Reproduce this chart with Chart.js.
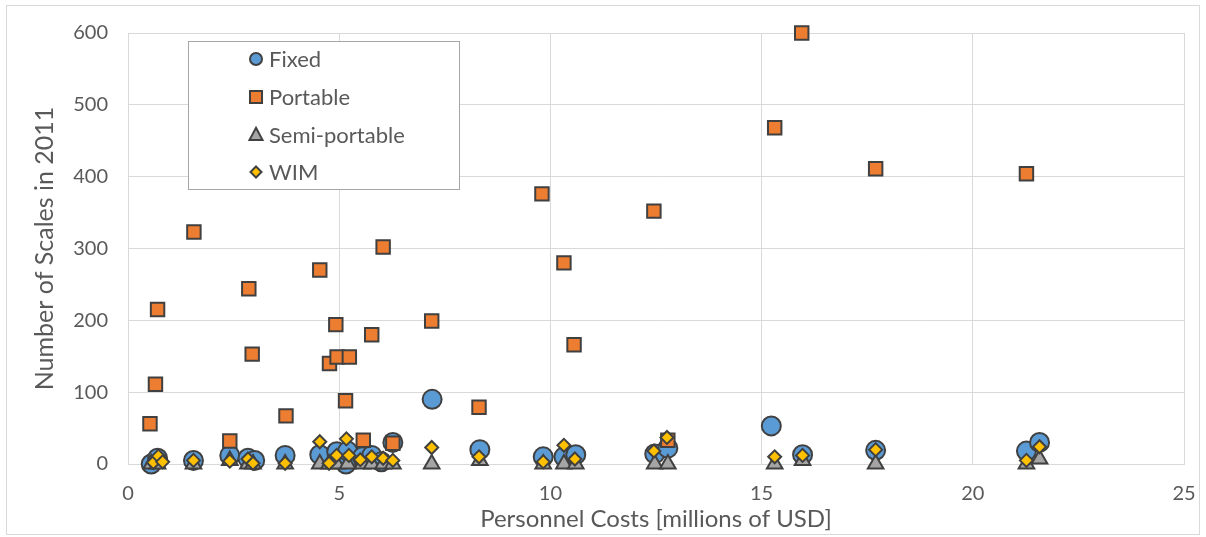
<!DOCTYPE html>
<html>
<head>
<meta charset="utf-8">
<script src="https://cdn.jsdelivr.net/npm/chart.js@4/dist/chart.umd.min.js"></script>
<style>
html,body{margin:0;padding:0;background:#fff;}
#wrap{width:1206px;height:537px;position:relative;}
</style>
</head>
<body>
<div id="wrap"><canvas id="c" width="1206" height="537"></canvas></div>
<script>
// ---- data ----
const seriesNames = ['Fixed', 'Portable', 'Semi-portable', 'WIM'];

const fixedX = [0.55,0.70,1.55,2.41,2.84,3.00,3.72,4.54,4.94,5.16,5.20,5.55,5.77,6.00,6.27,7.20,8.33,9.83,10.32,10.60,12.47,12.78,15.23,15.97,17.70,21.27,21.58];
const fixedY = [0,8,5,12,8,5,12,13,17,0,18,10,12,3,30,90,20,10,10,13,14,22,53,13,19,18,30];

const portableX = [0.52,0.65,0.70,1.56,2.41,2.86,2.94,3.74,4.54,4.77,4.92,4.95,5.15,5.24,5.57,5.77,6.04,6.27,7.19,8.31,9.80,10.32,10.56,12.45,12.78,15.31,15.95,17.70,21.27];
const portableY = [56,111,215,323,32,244,153,67,270,140,194,149,88,149,33,180,302,29,199,79,376,280,166,352,33,468,600,411,404];

const semiX = [0.55,0.70,1.55,2.41,2.84,2.96,3.72,4.54,4.76,4.94,5.20,5.55,5.77,6.04,6.27,7.19,8.33,9.83,10.32,10.60,12.47,12.78,15.31,15.97,17.70,21.27,21.58];
const semiY = [0,0,0,5,0,0,0,0,0,0,0,0,0,0,0,0,5,0,0,0,0,0,0,5,0,0,7];

const wimX = [0.60,0.72,0.82,1.55,2.41,2.84,2.96,3.72,4.54,4.76,4.94,5.17,5.23,5.50,5.77,6.04,6.27,7.19,8.31,9.83,10.32,10.58,12.45,12.76,15.31,15.97,17.70,21.27,21.58];
const wimY = [2,11,3,5,4,7,1,1,31,1,12,35,12,6,10,8,5,23,10,3,26,7,18,37,10,12,20,5,24];

const xTicks = [0,5,10,15,20,25];
const yTicks = [0,100,200,300,400,500,600];
const xTitle = 'Personnel Costs [millions of USD]';
const yTitle = 'Number of Scales in 2011';

// ---- styles ----
const colors = ['#5B9BD5', '#ED7D31', '#A5A5A5', '#FFC000'];
const styles = ['circle', 'rect', 'triangle', 'rectRot'];
const radii = [9.5, 9.5, 9, 6.5];
const edge = '#404040';
const textColor = '#595959';
const gridColor = '#d9d9d9';

function pts(xs, ys) { return xs.map((x, i) => ({x: x, y: ys[i]})); }
const pointSets = [pts(fixedX, fixedY), pts(portableX, portableY), pts(semiX, semiY), pts(wimX, wimY)];

Chart.defaults.font.family = 'Lato, "Open Sans", sans-serif';
Chart.defaults.color = textColor;

function drawMarker(ctx, style, x, y, r, fill) {
  ctx.save();
  ctx.fillStyle = fill;
  ctx.strokeStyle = edge;
  ctx.lineWidth = 2;
  ctx.beginPath();
  if (style === 'circle') {
    ctx.arc(x, y, r, 0, Math.PI * 2);
  } else if (style === 'rect') {
    ctx.rect(x - r, y - r, 2 * r, 2 * r);
  } else if (style === 'triangle') {
    ctx.moveTo(x, y - r * 1.1);
    ctx.lineTo(x + r, y + r * 0.75);
    ctx.lineTo(x - r, y + r * 0.75);
    ctx.closePath();
  } else {
    ctx.moveTo(x, y - r);
    ctx.lineTo(x + r, y);
    ctx.lineTo(x, y + r);
    ctx.lineTo(x - r, y);
    ctx.closePath();
  }
  ctx.fill();
  ctx.stroke();
  ctx.restore();
}

const frameAndLegend = {
  id: 'frameAndLegend',
  beforeDraw(chart) {
    const ctx = chart.ctx;
    ctx.save();
    ctx.fillStyle = '#fff';
    ctx.fillRect(0, 0, chart.width, chart.height);
    ctx.strokeStyle = gridColor;
    ctx.lineWidth = 1;
    ctx.strokeRect(6.5, 5.5, 1193, 529);
    ctx.restore();
  },
  afterDraw(chart) {
    const ctx = chart.ctx;
    ctx.save();
    ctx.fillStyle = '#fff';
    ctx.fillRect(188.5, 41.5, 271, 148);
    ctx.strokeStyle = '#a6a6a6';
    ctx.lineWidth = 1;
    ctx.strokeRect(188.5, 41.5, 271, 148);
    const rowsY = [59, 97, 135, 172];
    const legR = [6, 6, 6.5, 5.5];
    for (let i = 0; i < seriesNames.length; i++) {
      drawMarker(ctx, styles[i], 256, rowsY[i], legR[i], colors[i]);
      ctx.fillStyle = textColor;
      ctx.font = '22px Lato, "Open Sans", sans-serif';
      ctx.textBaseline = 'middle';
      ctx.textAlign = 'left';
      ctx.fillText(seriesNames[i], 269, rowsY[i] + 1);
    }
    ctx.restore();
  }
};

const datasets = seriesNames.map((name, i) => ({
  label: name,
  data: pointSets[i],
  pointStyle: styles[i],
  pointRadius: radii[i],
  pointHoverRadius: radii[i],
  backgroundColor: colors[i],
  borderColor: edge,
  pointBorderWidth: 2,
  borderWidth: 2,
  showLine: false,
  clip: false,
  order: 4 - i
}));

new Chart(document.getElementById('c'), {
  type: 'scatter',
  data: { datasets: datasets },
  options: {
    responsive: false,
    devicePixelRatio: 1,
    animation: false,
    layout: { padding: { left: 7, top: 33, right: 22, bottom: 2 } },
    plugins: {
      legend: { display: false },
      tooltip: { enabled: false }
    },
    scales: {
      x: {
        type: 'linear',
        min: 0, max: 25,
        afterFit(s) { s.height = 71; },
        afterBuildTicks(s) { s.ticks = xTicks.map(v => ({value: v})); },
        ticks: { font: { size: 20 }, color: textColor, padding: 2 },
        grid: { color: gridColor, drawTicks: true, tickLength: 16, tickColor: 'rgba(0,0,0,0)', lineWidth: 1 },
        border: { color: gridColor },
        title: { display: true, text: xTitle, color: textColor, font: { size: 24 }, padding: { top: 0, bottom: 1 } }
      },
      y: {
        type: 'linear',
        min: 0, max: 600,
        afterFit(s) { s.width = 121; },
        afterBuildTicks(s) { s.ticks = yTicks.map(v => ({value: v})); },
        ticks: { font: { size: 20 }, color: textColor, padding: 20 },
        grid: { color: gridColor, drawTicks: false, lineWidth: 1 },
        border: { color: gridColor },
        title: { display: true, text: yTitle, color: textColor, font: { size: 25 }, padding: { top: 23, bottom: 0 } }
      }
    }
  },
  plugins: [frameAndLegend]
});
</script>
</body>
</html>
